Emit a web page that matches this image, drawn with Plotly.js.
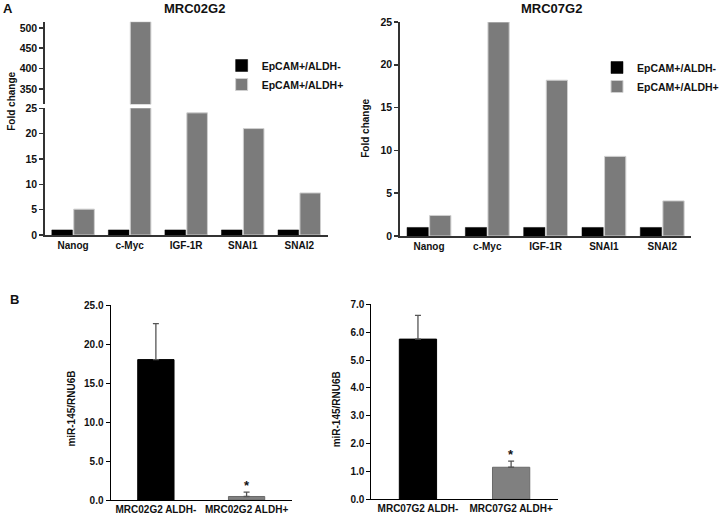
<!DOCTYPE html>
<html>
<head>
<meta charset="utf-8">
<script src="https://cdn.plot.ly/plotly-3.0.1.min.js"></script>
<style>html,body{margin:0;padding:0;background:#fff}#chart{width:724px;height:519px}</style>
</head>
<body>
<div id="chart"></div>
<script>
// ---- data ----
const genes = ["Nanog", "c-Myc", "IGF-1R", "SNAI1", "SNAI2"];
const seriesNames = ["EpCAM+/ALDH-", "EpCAM+/ALDH+"];
const mrc02Neg = [1, 1, 1, 1, 1];
const mrc02Pos = [5.1, 515, 24.1, 21.0, 8.3];
const mrc07Neg = [1, 1, 1, 1, 1];
const mrc07Pos = [2.4, 25.0, 18.2, 9.3, 4.1];

const bCats02 = ["MRC02G2 ALDH-", "MRC02G2 ALDH+"];
const bVals02 = [18.0, 0.45];
const bErr02 = [4.6, 0.55];
const bCats07 = ["MRC07G2 ALDH-", "MRC07G2 ALDH+"];
const bVals07 = [5.75, 1.15];
const bErr07 = [0.85, 0.22];

// ---- layout helpers ----
const W = 724, H = 519;
const px = v => v / W;
const py = v => 1 - v / H;
const FONT = "Liberation Sans, Arial, sans-serif";
const BLACK = "#000000", GRAY = "#7b7b7b";

const tickFontA = {family: FONT, size: 10.5, color: "#111", weight: "bold"};
const tickFontB = {family: FONT, size: 10, color: "#111", weight: "bold"};

function gene(x, y, xa, ya, name, color, legend, show, line) {
  return {type: "bar", x: x, y: y, xaxis: xa, yaxis: ya, name: name,
    marker: {color: color, line: line}, legend: legend, showlegend: show,
    hoverinfo: "x+y"};
}
const grayLine = {color: "#cfcfcf", width: 1};
const blackLine = {color: "#000", width: 0.5};

const traces = [
  gene(genes, mrc02Neg, "x", "y", seriesNames[0], BLACK, "legend", true, blackLine),
  gene(genes, mrc02Pos, "x", "y", seriesNames[1], GRAY, "legend", true, grayLine),
  gene(genes, mrc02Neg, "x", "y2", seriesNames[0], BLACK, "legend", false, blackLine),
  gene(genes, mrc02Pos, "x", "y2", seriesNames[1], GRAY, "legend", false, grayLine),
  gene(genes, mrc07Neg, "x2", "y3", seriesNames[0], BLACK, "legend2", true, blackLine),
  gene(genes, mrc07Pos, "x2", "y3", seriesNames[1], GRAY, "legend2", true, grayLine),
  {type: "bar", x: bCats02, y: bVals02, xaxis: "x3", yaxis: "y4", width: 0.4, showlegend: false,
    marker: {color: [BLACK, "#808080"], line: {color: ["#000", "#6a6a6a"], width: 1}},
    error_y: {type: "data", symmetric: false, array: bErr02, arrayminus: [0, 0],
      color: "#555", thickness: 1.3, width: 3}},
  {type: "bar", x: bCats07, y: bVals07, xaxis: "x4", yaxis: "y5", width: 0.4, showlegend: false,
    marker: {color: [BLACK, "#808080"], line: {color: ["#000", "#6a6a6a"], width: 1}},
    error_y: {type: "data", symmetric: false, array: bErr07, arrayminus: [0, 0],
      color: "#555", thickness: 1.3, width: 3}}
];

const axA = {showline: true, linecolor: "#333", linewidth: 1.5, showgrid: false, zeroline: false,
  ticks: "outside", ticklen: 4, tickcolor: "#333", tickwidth: 1.5, tickfont: tickFontA, fixedrange: true};
const axAx = Object.assign({}, axA, {ticks: "", type: "category", tickfont: Object.assign({}, tickFontA, {size: 10})});
const axB = {showline: true, linecolor: "#000", linewidth: 1, showgrid: false, zeroline: false,
  ticks: "outside", ticklen: 4, tickcolor: "#000", tickwidth: 1, tickfont: tickFontB, fixedrange: true};
const axBx = Object.assign({}, axB, {ticks: "", type: "category"});

function ann(text, x, y, size, angle) {
  return {text: text, xref: "paper", yref: "paper", x: px(x), y: py(y), xanchor: "center", yanchor: "middle",
    showarrow: false, textangle: angle || 0, font: {family: FONT, size: size, color: "#111", weight: "bold"}};
}
function star(xref, yref, cat, val) {
  return {text: "*", xref: xref, yref: yref, x: cat, y: val, xanchor: "center", yanchor: "bottom",
    showarrow: false, yshift: -3, font: {family: FONT, size: 13, color: "#111", weight: "bold"}};
}

const layout = {
  width: W, height: H,
  margin: {l: 0, r: 0, t: 0, b: 0},
  paper_bgcolor: "#fff", plot_bgcolor: "rgba(0,0,0,0)",
  barmode: "group", bargap: 0.225, bargroupgap: 0.06,
  font: {family: FONT, color: "#111"},
  xaxis: Object.assign({}, axAx, {domain: [px(45.7), px(334)], anchor: "y"}),
  yaxis: Object.assign({}, axA, {domain: [py(235), py(108.3)], anchor: "x", range: [0, 25], dtick: 5}),
  yaxis2: Object.assign({}, axA, {domain: [py(104.3), py(21.7)], anchor: "x", range: [312.6, 515],
    tickvals: [350, 400, 450, 500]}),
  xaxis2: Object.assign({}, axAx, {domain: [px(407.7), px(705)], anchor: "y3"}),
  yaxis3: Object.assign({}, axA, {domain: [py(236), py(22)], anchor: "x2", range: [0, 25], dtick: 5}),
  xaxis3: Object.assign({}, axBx, {domain: [px(112.7), px(297.7)], anchor: "y4"}),
  yaxis4: Object.assign({}, axB, {domain: [py(500), py(305)], anchor: "x3", range: [0, 25], dtick: 5, tickformat: ".1f"}),
  xaxis4: Object.assign({}, axBx, {domain: [px(378.7), px(568.7)], anchor: "y5"}),
  yaxis5: Object.assign({}, axB, {domain: [py(499.3), py(304.3)], anchor: "x4", range: [0, 7], dtick: 1, tickformat: ".1f"}),
  legend: {x: px(226), xanchor: "left", y: py(51), yanchor: "top", bgcolor: "rgba(0,0,0,0)",
    font: {family: FONT, size: 10.5, color: "#111", weight: "bold"}, tracegroupgap: 0},
  legend2: {x: px(609), xanchor: "left", y: py(53), yanchor: "top", bgcolor: "rgba(0,0,0,0)",
    font: {family: FONT, size: 10.5, color: "#111", weight: "bold"}, tracegroupgap: 0},
  annotations: [
    ann("A", 8, 8, 13),
    ann("B", 15, 299, 13),
    ann("MRC02G2", 198, 8.5, 13),
    ann("MRC07G2", 562, 8.5, 13),
    ann("Fold change", 11, 101, 10, -90),
    ann("Fold change", 372, 128, 10, -90),
    ann("miR-145/RNU6B", 72, 409, 10, -90),
    ann("miR-145/RNU6B", 343, 409, 10, -90),
    star("x3", "y4", bCats02[1], bVals02[1] + bErr02[1]),
    star("x4", "y5", bCats07[1], bVals07[1] + bErr07[1])
  ]
};

Plotly.newPlot("chart", traces, layout, {staticPlot: true, displayModeBar: false});
</script>
</body>
</html>
